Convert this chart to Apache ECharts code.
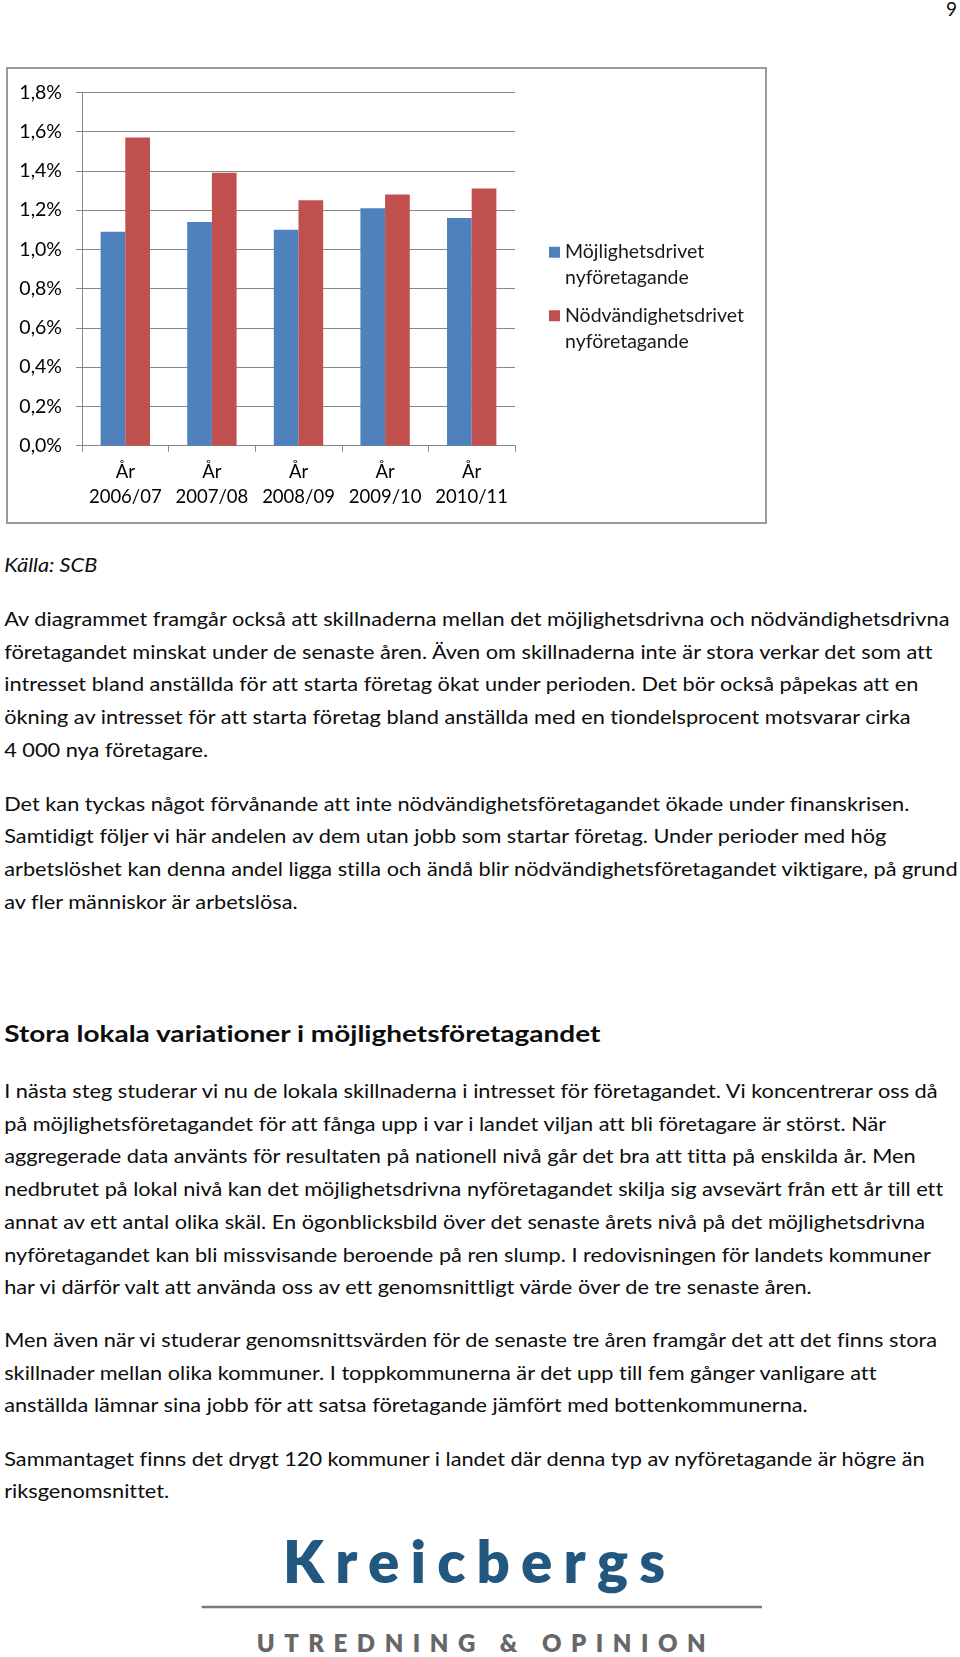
<!DOCTYPE html>
<html><head><meta charset="utf-8">
<script src="https://cdn.jsdelivr.net/npm/echarts@6.0.0/dist/echarts.min.js"></script>
<style>
html,body{margin:0;padding:0;background:#fff;width:960px;height:1657px;overflow:hidden}
#page{position:absolute;left:0;top:0}
#page text{font-variant-ligatures:none;font-feature-settings:"liga" 0, "clig" 0}
#chart{position:absolute;left:0;top:0;width:960px;height:540px}
</style></head><body>
<svg id="page" width="960" height="1657" xmlns="http://www.w3.org/2000/svg"></svg>
<div id="chart"></div>
<script>
// ---------- DATA ----------
const years = ['2006/07', '2007/08', '2008/09', '2009/10', '2010/11'];
const yearPrefix = 'År';
const opportunityDriven = [1.09, 1.14, 1.10, 1.21, 1.16];
const necessityDriven = [1.57, 1.39, 1.25, 1.28, 1.31];
const seriesNames = ['Möjlighetsdrivet\nnyföretagande', 'Nödvändighetsdrivet\nnyföretagande'];
const yMin = 0, yMax = 1.8, yStep = 0.2;

const pageNumber = '9';
const sourceNote = 'Källa: SCB';
const para1 = [
  'Av diagrammet framgår också att skillnaderna mellan det möjlighetsdrivna och nödvändighetsdrivna',
  'företagandet minskat under de senaste åren. Även om skillnaderna inte är stora verkar det som att',
  'intresset bland anställda för att starta företag ökat under perioden. Det bör också påpekas att en',
  'ökning av intresset för att starta företag bland anställda med en tiondelsprocent motsvarar cirka',
  '4 000 nya företagare.'
];
const para2 = [
  'Det kan tyckas något förvånande att inte nödvändighetsföretagandet ökade under finanskrisen.',
  'Samtidigt följer vi här andelen av dem utan jobb som startar företag. Under perioder med hög',
  'arbetslöshet kan denna andel ligga stilla och ändå blir nödvändighetsföretagandet viktigare, på grund',
  'av fler människor är arbetslösa.'
];
const heading = 'Stora lokala variationer i möjlighetsföretagandet';
const para3 = [
  'I nästa steg studerar vi nu de lokala skillnaderna i intresset för företagandet. Vi koncentrerar oss då',
  'på möjlighetsföretagandet för att fånga upp i var i landet viljan att bli företagare är störst. När',
  'aggregerade data använts för resultaten på nationell nivå går det bra att titta på enskilda år. Men',
  'nedbrutet på lokal nivå kan det möjlighetsdrivna nyföretagandet skilja sig avsevärt från ett år till ett',
  'annat av ett antal olika skäl. En ögonblicksbild över det senaste årets nivå på det möjlighetsdrivna',
  'nyföretagandet kan bli missvisande beroende på ren slump. I redovisningen för landets kommuner',
  'har vi därför valt att använda oss av ett genomsnittligt värde över de tre senaste åren.'
];
const para4 = [
  'Men även när vi studerar genomsnittsvärden för de senaste tre åren framgår det att det finns stora',
  'skillnader mellan olika kommuner. I toppkommunerna är det upp till fem gånger vanligare att',
  'anställda lämnar sina jobb för att satsa företagande jämfört med bottenkommunerna.'
];
const para5 = [
  'Sammantaget finns det drygt 120 kommuner i landet där denna typ av nyföretagande är högre än',
  'riksgenomsnittet.'
];
const logoName = 'Kreicbergs';
const logoTagline = 'UTREDNING & OPINION';

// ---------- PAGE TEXT (SVG) ----------
const NS = 'http://www.w3.org/2000/svg';
const svg = document.getElementById('page');
function addText(str, x, y, o) {
  const t = document.createElementNS(NS, 'text');
  t.textContent = str;
  t.setAttribute('x', 0);
  t.setAttribute('y', 0);
  t.setAttribute('font-family', o.family || 'Lato');
  t.setAttribute('font-size', o.size);
  if (o.weight) t.setAttribute('font-weight', o.weight);
  if (o.italic) t.setAttribute('font-style', 'italic');
  t.setAttribute('fill', o.color || '#0d0d0d');
  if (o.anchor) t.setAttribute('text-anchor', o.anchor);
  if (o.length) { t.setAttribute('textLength', o.length); t.setAttribute('lengthAdjust', 'spacing'); }
  t.setAttribute('transform', 'translate(' + x + ',' + y + ')');
  svg.appendChild(t);
  return t;
}
function scaleTo(t, x, y, sx) {
  t.setAttribute('transform', 'translate(' + x + ',' + y + ') scale(' + sx + ',1)');
}
const BODY = 20, LEFT = 4.2, STEP = 32.7;

addText(pageNumber, 957, 16, {size: 19, anchor: 'end'});

const src = addText(sourceNote, LEFT, 572, {size: BODY, italic: true});
const blocks = [
  {lines: para1, y0: 626},
  {lines: para2, y0: 810.5},
  {lines: para3, y0: 1098},
  {lines: para4, y0: 1347},
  {lines: para5, y0: 1465.5}
];
const bodyEls = [];
blocks.forEach(b => b.lines.forEach((ln, i) => {
  const y = b.y0 + i * STEP;
  bodyEls.push({el: addText(ln, LEFT, y, {size: BODY}), y});
}));
const head = addText(heading, LEFT, 1041.7, {size: 23, weight: 700});

// logo
addText(logoName, 283, 1583, {size: 58, weight: 800, color: '#22577f', length: 382});
const rule = document.createElementNS(NS, 'line');
rule.setAttribute('x1', 201.7); rule.setAttribute('x2', 762);
rule.setAttribute('y1', 1607); rule.setAttribute('y2', 1607);
rule.setAttribute('stroke', '#7a7a7a'); rule.setAttribute('stroke-width', 2.5);
svg.appendChild(rule);
addText(logoTagline, 256.7, 1651.7, {size: 24, weight: 800, color: '#676767', length: 449});

function fitText() {
  const sx = 945 / bodyEls[0].el.getComputedTextLength();
  bodyEls.forEach(o => scaleTo(o.el, LEFT, o.y, sx));
  scaleTo(src, LEFT, 572, 93 / src.getComputedTextLength());
  scaleTo(head, LEFT, 1041.7, 596 / head.getComputedTextLength());
}
fitText();
if (document.fonts && document.fonts.ready) document.fonts.ready.then(fitText);

// ---------- CHART ----------
const chart = echarts.init(document.getElementById('chart'), null, {renderer: 'canvas'});
const axisGray = '#868686';
// square icon at the top of a taller box, so it lines up with the first text line
const legendIcon = 'path://M0,0L11,0L11,11L0,11Z M0,37L0.01,37L0.01,37.01Z';
const legendText = {fontFamily: 'Lato', fontSize: 19.5, color: '#1a1a1a', lineHeight: 26};
const legendBase = {orient: 'vertical', left: 549, padding: 0, icon: legendIcon,
  itemWidth: 11, itemHeight: 37, textStyle: legendText, selectedMode: false};
chart.setOption({
  animation: false,
  textStyle: {fontFamily: 'Lato'},
  graphic: [{
    type: 'rect', silent: true,
    shape: {x: 7, y: 68, width: 759, height: 455},
    style: {fill: 'none', stroke: '#9a9a9a', lineWidth: 2}
  }],
  grid: {left: 82, top: 92.3, width: 433, height: 353.4, containLabel: false, outerBoundsMode: 'none'},
  legend: [
    Object.assign({data: [seriesNames[0]], top: 239.2}, legendBase),
    Object.assign({data: [seriesNames[1]], top: 302.7}, legendBase)
  ],
  xAxis: {
    type: 'category', data: years, boundaryGap: true,
    axisLine: {show: true, lineStyle: {color: axisGray, width: 1}},
    axisTick: {show: true, length: 6, alignWithLabel: false, lineStyle: {color: axisGray}},
    axisLabel: {formatter: v => yearPrefix + '\n' + v, fontFamily: 'Lato', fontSize: 18.5,
      lineHeight: 25, color: '#000', margin: 14, interval: 0},
    splitLine: {show: false}
  },
  yAxis: {
    type: 'value', min: yMin, max: yMax, interval: yStep,
    axisLine: {show: true, lineStyle: {color: axisGray, width: 1}},
    axisTick: {show: true, length: 6, lineStyle: {color: axisGray}},
    splitLine: {show: true, lineStyle: {color: axisGray, width: 1, type: 'solid'}},
    axisLabel: {formatter: v => v.toFixed(1).replace('.', ',') + '%', fontFamily: 'Lato',
      fontSize: 19.5, color: '#000', margin: 20}
  },
  series: [
    {name: seriesNames[0], type: 'bar', data: opportunityDriven, itemStyle: {color: '#4f81bd'},
      barGap: '0%', barCategoryGap: '43%'},
    {name: seriesNames[1], type: 'bar', data: necessityDriven, itemStyle: {color: '#c0504d'},
      barGap: '0%', barCategoryGap: '43%'}
  ]
});
</script>
</body></html>
